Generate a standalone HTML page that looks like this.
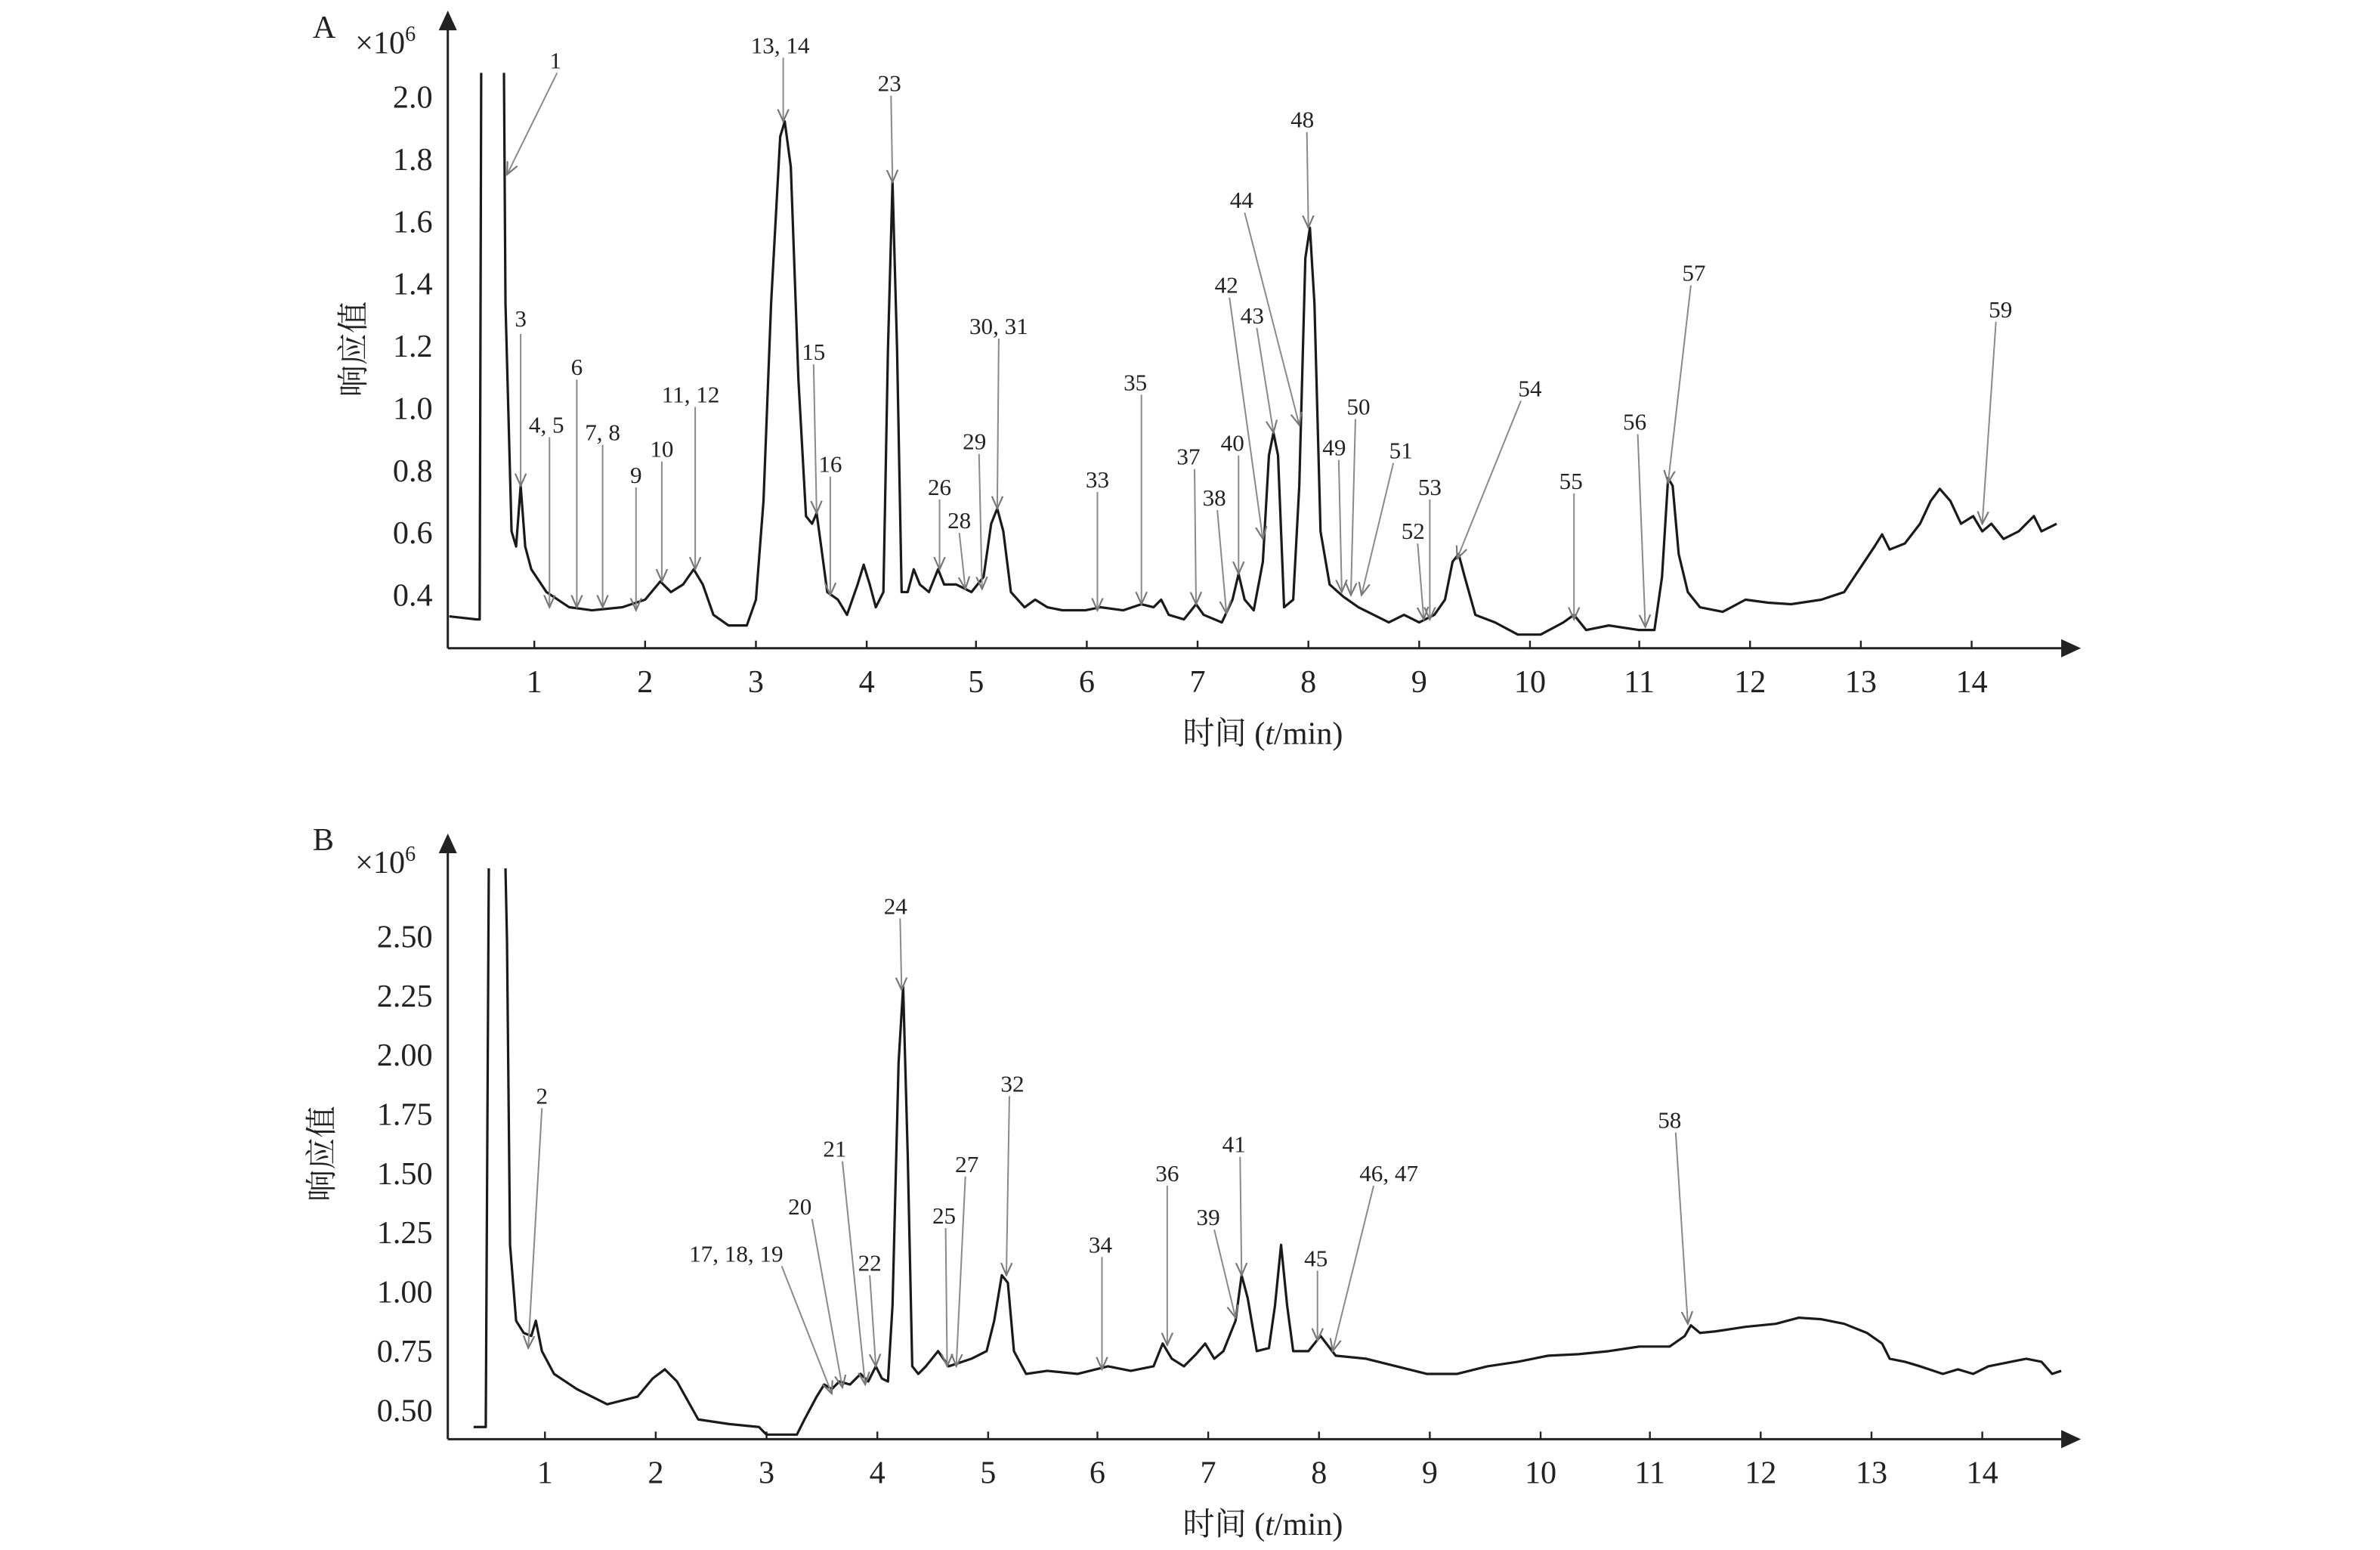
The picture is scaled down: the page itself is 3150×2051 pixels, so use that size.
<!DOCTYPE html>
<html><head><meta charset="utf-8"><style>
html,body{margin:0;padding:0;background:#fff;}
svg{display:block;}
text{font-family:"Liberation Serif","Noto Serif CJK SC",serif;fill:#222;}
.t{font-size:21px;}
.a{font-size:15.5px;}
.ann line{stroke:#8a8a8a;stroke-width:1;}
</style></head><body>
<svg width="3150" height="2051" viewBox="0 0 1568 1021" xmlns="http://www.w3.org/2000/svg">
<defs>
<marker id="ar" viewBox="0 0 10 10" refX="9" refY="5" markerWidth="9" markerHeight="9" orient="auto-start-reverse" markerUnits="userSpaceOnUse">
<path d="M0,1 L9,5 L0,9" fill="none" stroke="#777" stroke-width="1.2"/></marker>
</defs>
<g stroke="#222" stroke-width="1.5" fill="none">
<line x1="295" y1="427" x2="1360" y2="427"/>
<line x1="295" y1="427" x2="295" y2="18"/>
<line x1="295" y1="948" x2="1360" y2="948"/>
<line x1="295" y1="948" x2="295" y2="560"/>
</g>
<path d="M1358,421 L1371,427 L1358,433 Z M289,20 L295,7 L301,20 Z M1358,942 L1371,948 L1358,954 Z M289,562 L295,549 L301,562 Z" fill="#222"/>
<g stroke="#222" stroke-width="1.2">
<line x1="352" y1="427" x2="352" y2="422"/><line x1="425" y1="427" x2="425" y2="422"/><line x1="498" y1="427" x2="498" y2="422"/><line x1="571" y1="427" x2="571" y2="422"/><line x1="643" y1="427" x2="643" y2="422"/><line x1="716" y1="427" x2="716" y2="422"/><line x1="789" y1="427" x2="789" y2="422"/><line x1="862" y1="427" x2="862" y2="422"/><line x1="935" y1="427" x2="935" y2="422"/><line x1="1008" y1="427" x2="1008" y2="422"/><line x1="1080" y1="427" x2="1080" y2="422"/><line x1="1153" y1="427" x2="1153" y2="422"/><line x1="1226" y1="427" x2="1226" y2="422"/><line x1="1299" y1="427" x2="1299" y2="422"/>
<line x1="359" y1="948" x2="359" y2="943"/><line x1="432" y1="948" x2="432" y2="943"/><line x1="505" y1="948" x2="505" y2="943"/><line x1="578" y1="948" x2="578" y2="943"/><line x1="651" y1="948" x2="651" y2="943"/><line x1="723" y1="948" x2="723" y2="943"/><line x1="796" y1="948" x2="796" y2="943"/><line x1="869" y1="948" x2="869" y2="943"/><line x1="942" y1="948" x2="942" y2="943"/><line x1="1015" y1="948" x2="1015" y2="943"/><line x1="1087" y1="948" x2="1087" y2="943"/><line x1="1160" y1="948" x2="1160" y2="943"/><line x1="1233" y1="948" x2="1233" y2="943"/><line x1="1306" y1="948" x2="1306" y2="943"/>
</g>
<g class="t" text-anchor="middle">
<text x="352" y="456">1</text><text x="425" y="456">2</text><text x="498" y="456">3</text><text x="571" y="456">4</text><text x="643" y="456">5</text><text x="716" y="456">6</text><text x="789" y="456">7</text><text x="862" y="456">8</text><text x="935" y="456">9</text><text x="1008" y="456">10</text><text x="1080" y="456">11</text><text x="1153" y="456">12</text><text x="1226" y="456">13</text><text x="1299" y="456">14</text>
<text x="359" y="977">1</text><text x="432" y="977">2</text><text x="505" y="977">3</text><text x="578" y="977">4</text><text x="651" y="977">5</text><text x="723" y="977">6</text><text x="796" y="977">7</text><text x="869" y="977">8</text><text x="942" y="977">9</text><text x="1015" y="977">10</text><text x="1087" y="977">11</text><text x="1160" y="977">12</text><text x="1233" y="977">13</text><text x="1306" y="977">14</text>
</g>
<g class="t" text-anchor="end">
<text x="285" y="71">2.0</text><text x="285" y="112">1.8</text><text x="285" y="153">1.6</text><text x="285" y="194">1.4</text><text x="285" y="235">1.2</text><text x="285" y="276">1.0</text><text x="285" y="317">0.8</text><text x="285" y="358">0.6</text><text x="285" y="399">0.4</text>
<text x="285" y="624">2.50</text><text x="285" y="663">2.25</text><text x="285" y="702">2.00</text><text x="285" y="741">1.75</text><text x="285" y="780">1.50</text><text x="285" y="819">1.25</text><text x="285" y="858">1.00</text><text x="285" y="897">0.75</text><text x="285" y="936">0.50</text>
</g>
<text class="t" x="206" y="25">A</text><text class="t" x="206" y="560">B</text>
<text class="t" x="234" y="35">×10<tspan font-size="14" dy="-8">6</tspan></text>
<text class="t" x="234" y="575">×10<tspan font-size="14" dy="-8">6</tspan></text>
<text class="t" transform="translate(240,230) rotate(-90)" text-anchor="middle">响应值</text>
<text class="t" transform="translate(219,760) rotate(-90)" text-anchor="middle">响应值</text>
<text class="t" x="832" y="490" text-anchor="middle">时间 (<tspan font-style="italic">t</tspan>/min)</text>
<text class="t" x="832" y="1011" text-anchor="middle">时间 (<tspan font-style="italic">t</tspan>/min)</text>
<g fill="none" stroke="#1a1a1a" stroke-width="1.6" stroke-linejoin="round">
<polyline points="296,406 314,408 316,408 317,48"/>
<polyline points="332,48 333,200 337,350 340,360 343,320 346,360 350,375 360,390 375,400 390,402 410,400 425,395 435,383 442,390 450,385 457,375 463,385 470,405 480,412 492,412 498,395 503,330 508,200 514,90 517,80 521,110 526,250 531,340 535,345 538,338 541,360 545,390 552,395 558,405 565,385 569,372 573,385 577,400 582,390 585,230 588,120 591,230 594,390 598,390 602,375 606,385 612,390 618,375 622,385 630,385 640,390 648,380 653,345 657,335 661,350 666,390 675,400 682,395 690,400 700,402 715,402 725,400 740,402 752,398 760,400 765,395 770,405 780,408 788,398 793,405 805,410 812,395 816,378 820,395 826,402 832,370 836,300 839,285 842,300 846,400 852,395 856,320 860,170 863,150 866,200 870,350 876,385 885,393 895,400 905,405 915,410 925,405 935,410 945,405 952,395 957,370 961,365 965,380 972,405 985,410 1000,418 1015,418 1030,410 1037,405 1045,415 1060,412 1080,415 1090,415 1095,380 1099,315 1102,320 1106,365 1112,390 1120,400 1135,403 1150,395 1165,397 1180,398 1200,395 1215,390 1225,375 1235,360 1240,352 1245,362 1255,358 1265,345 1272,330 1278,322 1285,330 1292,345 1300,340 1306,350 1312,345 1320,355 1330,350 1340,340 1345,350 1355,345"/>
<polyline points="312,940 320,940 322,572"/>
<polyline points="333,572 334,620 336,820 340,870 345,878 350,880 353,870 357,890 365,905 380,915 400,925 420,920 430,908 438,902 446,910 460,935 480,938 500,940 505,945 525,945 530,935 538,920 543,912 548,915 553,910 560,912 567,905 572,910 577,900 581,908 585,910 588,860 592,700 595,650 598,760 601,900 605,905 610,900 618,890 625,900 640,895 650,890 655,870 660,840 664,845 668,890 676,905 690,903 710,905 730,900 745,903 760,900 766,885 772,895 780,900 788,892 794,885 800,895 806,890 814,870 818,840 822,855 828,890 836,888 840,860 844,820 848,860 852,890 862,890 870,880 880,893 900,895 920,900 940,905 960,905 980,900 1000,897 1020,893 1040,892 1060,890 1080,887 1100,887 1110,880 1114,873 1120,878 1130,877 1150,874 1170,872 1185,868 1200,869 1215,872 1230,878 1240,885 1245,895 1255,897 1265,900 1280,905 1290,902 1300,905 1310,900 1320,898 1335,895 1345,897 1352,905 1358,903"/>
</g>
<g class="ann" marker-end="url(#ar)">
<line x1="367" y1="48" x2="334" y2="115"/><line x1="343" y1="220" x2="343" y2="320"/><line x1="362" y1="288" x2="362" y2="400"/><line x1="380" y1="250" x2="380" y2="400"/><line x1="397" y1="293" x2="397" y2="400"/><line x1="419" y1="321" x2="419" y2="402"/><line x1="436" y1="304" x2="436" y2="383"/><line x1="458" y1="268" x2="458" y2="375"/><line x1="516" y1="38" x2="516" y2="80"/><line x1="536" y1="240" x2="538" y2="338"/><line x1="547" y1="314" x2="547" y2="392"/><line x1="587" y1="63" x2="588" y2="120"/><line x1="619" y1="329" x2="619" y2="375"/><line x1="632" y1="351" x2="636" y2="388"/><line x1="645" y1="299" x2="647" y2="388"/><line x1="658" y1="223" x2="657" y2="335"/><line x1="723" y1="324" x2="723" y2="402"/><line x1="752" y1="260" x2="752" y2="398"/><line x1="787" y1="309" x2="788" y2="398"/><line x1="802" y1="336" x2="808" y2="404"/><line x1="816" y1="300" x2="816" y2="378"/><line x1="810" y1="196" x2="832" y2="355"/><line x1="828" y1="216" x2="839" y2="285"/><line x1="820" y1="140" x2="856" y2="280"/><line x1="861" y1="87" x2="862" y2="150"/><line x1="882" y1="303" x2="884" y2="390"/><line x1="893" y1="276" x2="890" y2="392"/><line x1="918" y1="305" x2="897" y2="392"/><line x1="934" y1="358" x2="938" y2="408"/><line x1="942" y1="329" x2="942" y2="408"/><line x1="1002" y1="264" x2="960" y2="368"/><line x1="1037" y1="325" x2="1037" y2="408"/><line x1="1079" y1="286" x2="1084" y2="413"/><line x1="1114" y1="188" x2="1099" y2="318"/><line x1="1315" y1="212" x2="1306" y2="345"/>
<line x1="357" y1="730" x2="348" y2="888"/><line x1="515" y1="834" x2="548" y2="918"/><line x1="535" y1="803" x2="555" y2="914"/><line x1="555" y1="765" x2="570" y2="912"/><line x1="573" y1="840" x2="577" y2="900"/><line x1="593" y1="605" x2="594" y2="652"/><line x1="623" y1="809" x2="624" y2="900"/><line x1="636" y1="775" x2="630" y2="900"/><line x1="665" y1="722" x2="663" y2="840"/><line x1="726" y1="828" x2="726" y2="902"/><line x1="769" y1="781" x2="769" y2="886"/><line x1="800" y1="810" x2="814" y2="868"/><line x1="817" y1="762" x2="818" y2="840"/><line x1="868" y1="837" x2="868" y2="883"/><line x1="905" y1="781" x2="878" y2="890"/><line x1="1104" y1="746" x2="1112" y2="872"/>
</g>
<g class="a" text-anchor="middle">
<text x="366" y="45">1</text><text x="343" y="215">3</text><text x="360" y="285">4, 5</text><text x="380" y="247">6</text><text x="397" y="290">7, 8</text><text x="419" y="318">9</text><text x="436" y="301">10</text><text x="455" y="265">11, 12</text><text x="514" y="35">13, 14</text><text x="536" y="237">15</text><text x="547" y="311">16</text><text x="586" y="60">23</text><text x="619" y="326">26</text><text x="632" y="348">28</text><text x="642" y="296">29</text><text x="658" y="220">30, 31</text><text x="723" y="321">33</text><text x="748" y="257">35</text><text x="783" y="306">37</text><text x="800" y="333">38</text><text x="812" y="297">40</text><text x="808" y="193">42</text><text x="825" y="213">43</text><text x="818" y="137">44</text><text x="858" y="84">48</text><text x="879" y="300">49</text><text x="895" y="273">50</text><text x="923" y="302">51</text><text x="931" y="355">52</text><text x="942" y="326">53</text><text x="1008" y="261">54</text><text x="1035" y="322">55</text><text x="1077" y="283">56</text><text x="1116" y="185">57</text><text x="1318" y="209">59</text>
<text x="357" y="727">2</text><text x="485" y="831">17, 18, 19</text><text x="527" y="800">20</text><text x="550" y="762">21</text><text x="573" y="837">22</text><text x="590" y="602">24</text><text x="622" y="806">25</text><text x="637" y="772">27</text><text x="667" y="719">32</text><text x="725" y="825">34</text><text x="769" y="778">36</text><text x="796" y="807">39</text><text x="813" y="759">41</text><text x="867" y="834">45</text><text x="915" y="778">46, 47</text><text x="1100" y="743">58</text>
</g>
</svg>
</body></html>
